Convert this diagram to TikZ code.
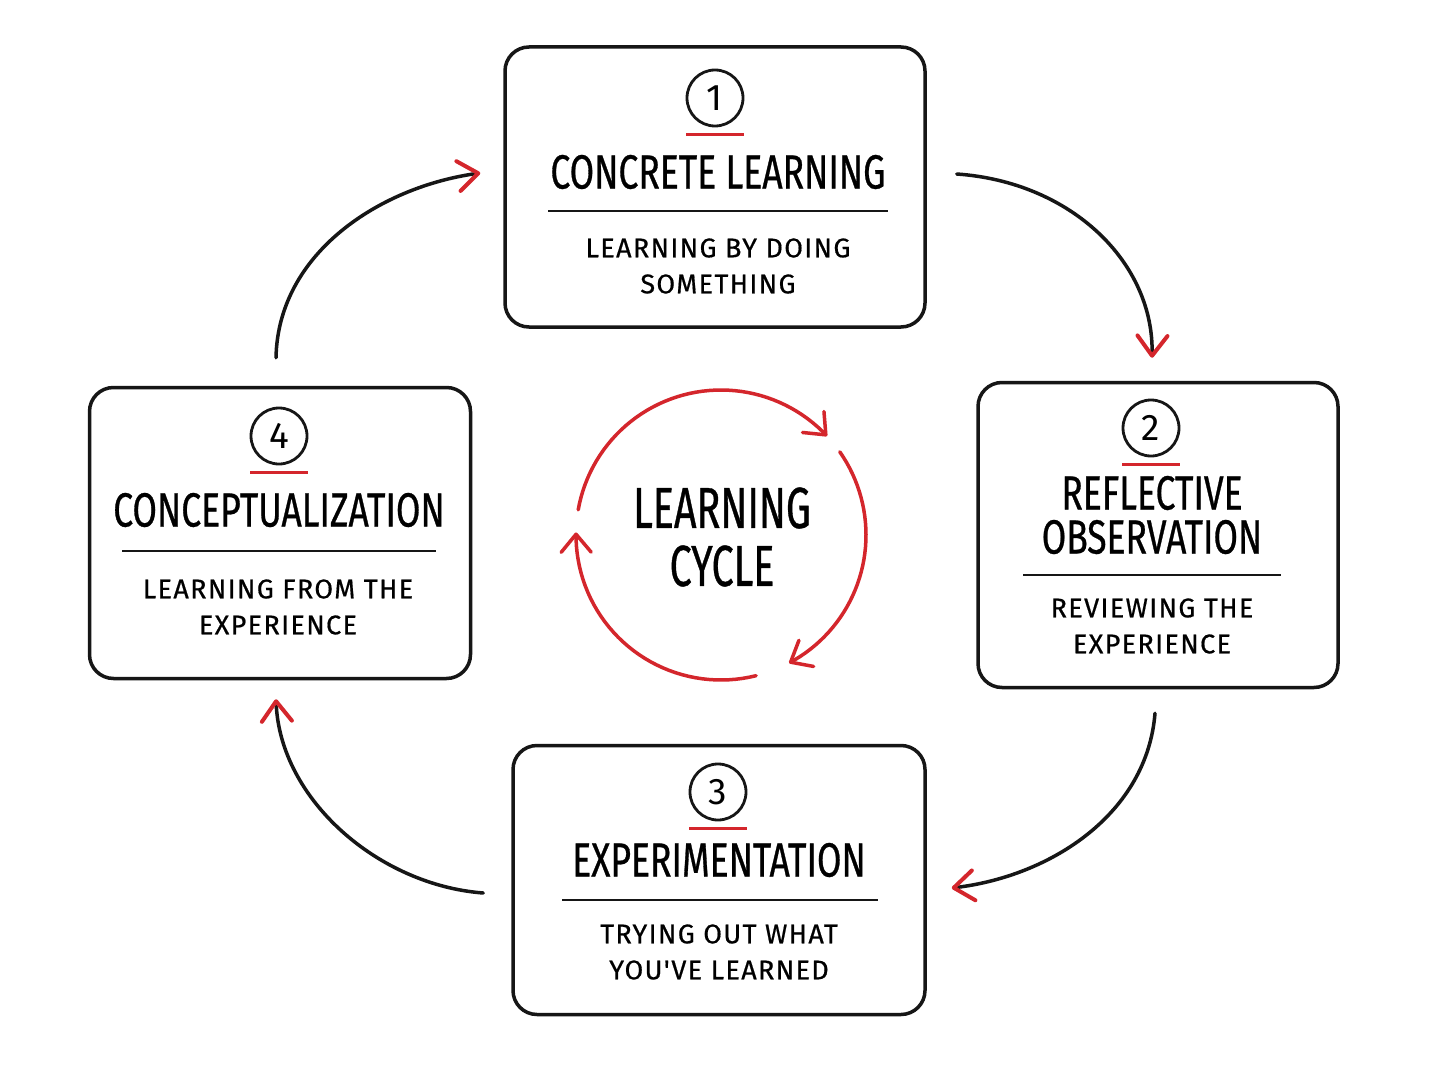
\documentclass[tikz,border=0pt]{standalone}
\usepackage{fontspec}
\setmainfont{Fira Sans}
\newfontfamily\headfont{Fira Sans}[FakeStretch=0.74, FakeBold=0.6]
\newfontfamily\hubfont{Fira Sans}[FakeStretch=0.68, FakeBold=0.6]
\newfontfamily\notefont{Fira Sans}[LetterSpace=5, FakeBold=0.6]
\usetikzlibrary{arrows.meta, positioning, calc}
\definecolor{penred}{RGB}{212,38,44}
\definecolor{ink}{RGB}{22,22,22}

\begin{document}
\begin{tikzpicture}[x=1pt, y=-1pt,
  card/.style={draw=ink, line width=3.5pt, rounded corners=24pt, inner sep=0pt},
  badge/.style={draw=ink, circle, line width=2.8pt, minimum size=56pt, inner sep=0pt,
    font=\fontsize{37}{37}\selectfont},
  headline/.style={align=center, inner sep=0pt, font=\headfont\fontsize{48}{44}\selectfont},
  note/.style={align=center, inner sep=0pt, font=\notefont\fontsize{27}{36}\selectfont},
  rule/.style={ink, line width=2.5pt},
  redbar/.style={penred, line width=3pt},
  flow/.style={ink, line width=3.5pt, line cap=round,
    -{Straight Barb[color=penred, length=20pt, width=30pt, line width=4pt, round]}},
  cyclearc/.style={penred, line width=3.5pt, line cap=round,
    -{Straight Barb[length=18pt, width=30pt, line width=3.5pt, round]}},
]
  \fill[white] (0,0) rectangle (1448,1086);
  \useasboundingbox (0,0) rectangle (1448,1086);

  % the four stages
  \node[card, minimum width=420pt, minimum height=280pt] (c1) at (715,187) {};
  \node[card, minimum width=360pt, minimum height=305pt] (c2) at (1158,535) {};
  \node[card, minimum width=412pt, minimum height=269pt] (c3) at (719,880) {};
  \node[card, minimum width=381pt, minimum height=291pt] (c4) at (280,533) {};

  % stage 1
  \node[badge] (n1) at (715,98) {1};
  \draw[redbar] ([xshift=-29pt,yshift=-7pt]n1.south) -- ([xshift=29pt,yshift=-7pt]n1.south);
  \node[headline] (t1) at (718,172) {CONCRETE LEARNING};
  \draw[rule] (548,211) -- (888,211);
  \node[note] (s1) at (718,266) {LEARNING BY DOING\\SOMETHING};

  % stage 2
  \node[badge] (n2) at (1151,428) {2};
  \draw[redbar] ([xshift=-29pt,yshift=-7pt]n2.south) -- ([xshift=29pt,yshift=-7pt]n2.south);
  \node[headline] (t2) at (1152,515) {REFLECTIVE\\OBSERVATION};
  \draw[rule] (1023,575) -- (1281,575);
  \node[note] (s2) at (1152,626) {REVIEWING THE\\EXPERIENCE};

  % stage 3
  \node[badge] (n3) at (718,792) {3};
  \draw[redbar] ([xshift=-29pt,yshift=-7pt]n3.south) -- ([xshift=29pt,yshift=-7pt]n3.south);
  \node[headline] (t3) at (719,860) {EXPERIMENTATION};
  \draw[rule] (562,900) -- (878,900);
  \node[note] (s3) at (719,952) {TRYING OUT WHAT\\YOU'VE LEARNED};

  % stage 4
  \node[badge] (n4) at (279,436) {4};
  \draw[redbar] ([xshift=-29pt,yshift=-7pt]n4.south) -- ([xshift=29pt,yshift=-7pt]n4.south);
  \node[headline] (t4) at (279,510) {CONCEPTUALIZATION};
  \draw[rule] (122,551) -- (436,551);
  \node[note] (s4) at (278,607) {LEARNING FROM THE\\EXPERIENCE};

  % centre
  \node[headline, font=\hubfont\fontsize{58}{58}\selectfont] (hub) at (722,537) {LEARNING\\CYCLE};
  \begin{scope}[shift={(721,535)}]
    \draw[cyclearc] plot[domain=170:43, samples=50] ({145*cos(\x)},{-145*sin(\x)});
    \draw[cyclearc] plot[domain=35:-62, samples=40] ({145*cos(\x)},{-145*sin(\x)});
    \draw[cyclearc] plot[domain=-76:-181, samples=40] ({145*cos(\x)},{-145*sin(\x)});
  \end{scope}

  % connectors between stages
  \coordinate (a1s) at ($(c1.east)+(30,-13)$);
  \coordinate (a1e) at ($(c2.north)+(-6,-23)$);
  \coordinate (a2s) at ($(c2.south)+(-3,24)$);
  \coordinate (a2e) at ($(c3.east)+(25,8)$);
  \coordinate (a3s) at ($(c3.west)+(-28,13)$);
  \coordinate (a3e) at ($(c4.south)+(-4,19)$);
  \coordinate (a4s) at ($(c4.north)+(-4,-28)$);
  \coordinate (a4e) at ($(c1.west)+(-23,-14)$);
  \draw[flow] (a1s) .. controls +(115,8) and +(2,-95) .. (a1e);
  \draw[flow] (a2s) .. controls +(-8,100) and +(100,-12) .. (a2e);
  \draw[flow] (a3s) .. controls +(-105,-8) and +(4,100) .. (a3e);
  \draw[flow] (a4s) .. controls +(2,-105) and +(-100,14) .. (a4e);
\end{tikzpicture}
\end{document}
